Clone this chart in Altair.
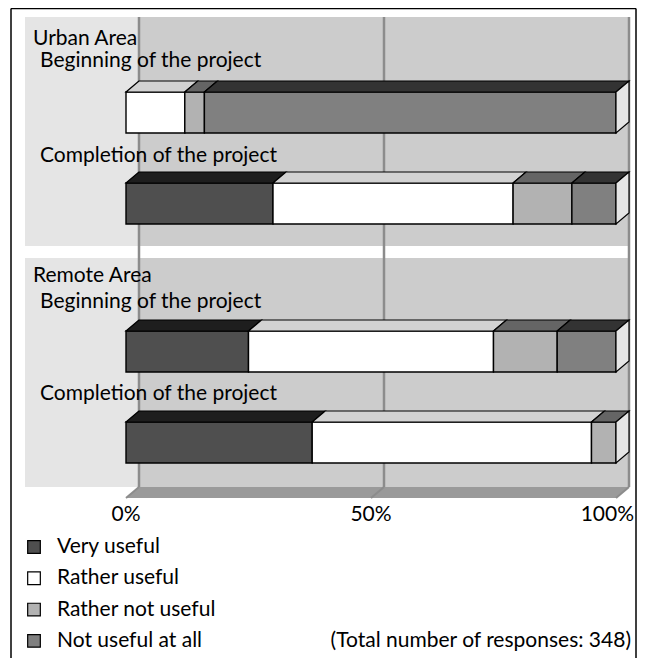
import altair as alt
import pandas as pd

# ---------------- data ----------------
CATEGORIES = ["Very useful", "Rather useful", "Rather not useful", "Not useful at all"]
GROUPS = ["Urban Area", "Remote Area"]
PHASES = ["Beginning of the project", "Completion of the project"]
URBAN_BEGIN = [0, 12, 4, 84]
URBAN_END = [30, 49, 12, 9]
REMOTE_BEGIN = [25, 50, 13, 12]
REMOTE_END = [38, 57, 5, 0]
TICKS = [0, 50, 100]
NOTE = "(Total number of responses: 348)"

# ---------------- styles ----------------
FRONT = ["#4f4f4f", "#ffffff", "#b2b2b2", "#808080"]
TOPC = ["#1e1e1e", "#d2d2d2", "#656565", "#333333"]
SIDE = "#e5e5e5"
LIGHT = "#e5e5e5"
WALL = "#cccccc"
GRID = "#8c8c8c"
FLOOR = "#9a9a9a"
FONT = "Lato"
FS = 21

# ---------------- layout (x in percent units, y in px from top) ----------------
W, H = 629, 650
PX = 4.9                       # px per percent
X0 = -(126 - 8) / PX           # left edge of view in percent units
DX = 13 / PX                   # depth offset (x)
DY = 11                        # depth offset (y)
BAR_H = 41
BAR_TOP = [[84, 175], [323, 414]]
GROUP_LABEL_Y = [37, 274]
ROW_LABEL_Y = [[59, 154], [300, 392]]
PANEL = [(9, 238), (250, 479)]
FLOOR_BACK, FLOOR_FRONT = 479, 490
LEFT_PANEL_X = (25 - 126) / PX
FRAME_L, FRAME_R, FRAME_T = (11 - 126) / PX, (636 - 126) / PX, 0.5
LABEL_X_GROUP = (33 - 126) / PX
LABEL_X_ROW = (40 - 126) / PX
TICK_Y = 507
LAST_TICK_X = (634 - 126) / PX
LEG_SQ_X = (34 - 126) / PX
LEG_TX_X = (57 - 126) / PX
LEG_Y0, LEG_STEP = 539, 31.3
NOTE_X = (631 - 126) / PX

xs = alt.Scale(domain=[X0, X0 + W / PX], nice=False, zero=False)
ys = alt.Scale(domain=[0, H], reverse=True, nice=False, zero=False)
X = lambda f: alt.X(f, type="quantitative", scale=xs, axis=None)
Y = lambda f: alt.Y(f, type="quantitative", scale=ys, axis=None)
colscale = alt.Scale(domain=CATEGORIES, range=FRONT)

# ---------------- build tables ----------------
series = [[URBAN_BEGIN, URBAN_END], [REMOTE_BEGIN, REMOTE_END]]
front, top, side = [], [], []
for gi in range(2):
    for pi in range(2):
        vals = series[gi][pi]
        t = BAR_TOP[gi][pi]
        cum = 0
        for ci, v in enumerate(vals):
            if v > 0:
                sid = f"{gi}-{pi}-{ci}"
                front.append(dict(x=cum, x2=cum + v, y=t, y2=t + BAR_H, cat=CATEGORIES[ci]))
                top.append(dict(id=sid, y=t, x=cum, x2=cum + v, c=TOPC[ci]))
                top.append(dict(id=sid, y=t - DY, x=cum + DX, x2=cum + v + DX, c=TOPC[ci]))
            cum += v
        sid = f"{gi}-{pi}"
        side.append(dict(id=sid, x=cum, y=t, y2=t + BAR_H))
        side.append(dict(id=sid, x=cum + DX, y=t - DY, y2=t + BAR_H - DY))

front_df, top_df, side_df = pd.DataFrame(front), pd.DataFrame(top), pd.DataFrame(side)

panels = []
for (a, b) in PANEL:
    panels.append(dict(x=LEFT_PANEL_X, x2=DX, y=a, y2=b, c=LIGHT))
    panels.append(dict(x=DX, x2=100 + DX, y=a, y2=b, c=WALL))
panel_df = pd.DataFrame(panels)

floor_df = pd.DataFrame([dict(y=FLOOR_BACK, x=DX, x2=100 + DX), dict(y=FLOOR_FRONT, x=0, x2=100)])

grid_v = pd.DataFrame([dict(x=t + DX, y=PANEL[0][0], y2=FLOOR_BACK) for t in TICKS])
grid_d = pd.DataFrame([dict(x=t + DX, x2=t, y=FLOOR_BACK, y2=FLOOR_FRONT) for t in TICKS])

frame_df = pd.DataFrame([
    dict(x=FRAME_L, x2=FRAME_L, y=FRAME_T, y2=H),
    dict(x=FRAME_R, x2=FRAME_R, y=FRAME_T, y2=H),
    dict(x=FRAME_L, x2=FRAME_R, y=FRAME_T, y2=FRAME_T),
])

labels = []
for gi, g in enumerate(GROUPS):
    labels.append(dict(x=LABEL_X_GROUP, y=GROUP_LABEL_Y[gi], t=g))
    for pi, p in enumerate(PHASES):
        labels.append(dict(x=LABEL_X_ROW, y=ROW_LABEL_Y[gi][pi], t=p))
label_df = pd.DataFrame(labels)

tick_df = pd.DataFrame([dict(x=t, y=TICK_Y, t=f"{t}%") for t in TICKS[:-1]])
tick_last_df = pd.DataFrame([dict(x=LAST_TICK_X, y=TICK_Y, t=f"{TICKS[-1]}%")])

leg_df = pd.DataFrame([dict(xs=LEG_SQ_X, xt=LEG_TX_X, y=LEG_Y0 + i * LEG_STEP, cat=c)
                       for i, c in enumerate(CATEGORIES)])
note_df = pd.DataFrame([dict(x=NOTE_X, y=LEG_Y0 + 3 * LEG_STEP, t=NOTE)])

# ---------------- layers ----------------
panel_l = alt.Chart(panel_df).mark_rect().encode(
    x=X("x"), x2="x2", y=Y("y"), y2="y2", fill=alt.Fill("c:N", scale=None))
floor_l = alt.Chart(floor_df).mark_area(orient="horizontal", color=FLOOR).encode(
    y=Y("y"), x=X("x"), x2="x2")
gridv_l = alt.Chart(grid_v).mark_rule(color=GRID, strokeWidth=2.5).encode(
    x=X("x"), y=Y("y"), y2="y2")
gridd_l = alt.Chart(grid_d).mark_rule(color=GRID, strokeWidth=2).encode(
    x=X("x"), x2="x2", y=Y("y"), y2="y2")
frame_l = alt.Chart(frame_df).mark_rule(color="black", strokeWidth=1.5).encode(
    x=X("x"), x2="x2", y=Y("y"), y2="y2")
front_l = alt.Chart(front_df).mark_rect(stroke="black", strokeWidth=1.4).encode(
    x=X("x"), x2="x2", y=Y("y"), y2="y2",
    fill=alt.Fill("cat:N", scale=colscale, legend=None))
top_l = alt.Chart(top_df).mark_area(orient="horizontal", stroke="black", strokeWidth=1.2,
                                    strokeJoin="miter").encode(
    y=Y("y"), x=X("x"), x2="x2", detail="id:N", fill=alt.Fill("c:N", scale=None))
side_l = alt.Chart(side_df).mark_area(orient="vertical", stroke="black", strokeWidth=1.2,
                                      fill=SIDE).encode(
    x=X("x"), y=Y("y"), y2="y2", detail="id:N")
label_l = alt.Chart(label_df).mark_text(align="left", baseline="alphabetic", font=FONT,
                                        fontSize=FS, color="black").encode(
    x=X("x"), y=Y("y"), text="t:N")
tick_l = alt.Chart(tick_df).mark_text(align="center", baseline="middle", font=FONT,
                                      fontSize=FS, color="black").encode(
    x=X("x"), y=Y("y"), text="t:N")
tick_last_l = alt.Chart(tick_last_df).mark_text(align="right", baseline="middle", font=FONT,
                                                fontSize=FS, color="black").encode(
    x=X("x"), y=Y("y"), text="t:N")
legsq_l = alt.Chart(leg_df).mark_square(size=160, stroke="black", strokeWidth=1.2, opacity=1).encode(
    x=X("xs"), y=Y("y"), fill=alt.Fill("cat:N", scale=colscale, legend=None))
legtx_l = alt.Chart(leg_df).mark_text(align="left", baseline="middle", font=FONT,
                                      fontSize=FS, color="black").encode(
    x=X("xt"), y=Y("y"), text="cat:N")
note_l = alt.Chart(note_df).mark_text(align="right", baseline="middle", font=FONT,
                                      fontSize=FS, color="black").encode(
    x=X("x"), y=Y("y"), text="t:N")

chart = alt.layer(
    panel_l, floor_l, gridv_l, gridd_l, frame_l,
    front_l, top_l, side_l,
    label_l, tick_l, tick_last_l, legsq_l, legtx_l, note_l,
).properties(
    width=W, height=H,
    autosize=alt.AutoSizeParams(type="none"),
    padding=0,
    background="white",
).configure_view(stroke=None)

chart.save("out.html", embed_options={"renderer": "svg", "actions": False})
